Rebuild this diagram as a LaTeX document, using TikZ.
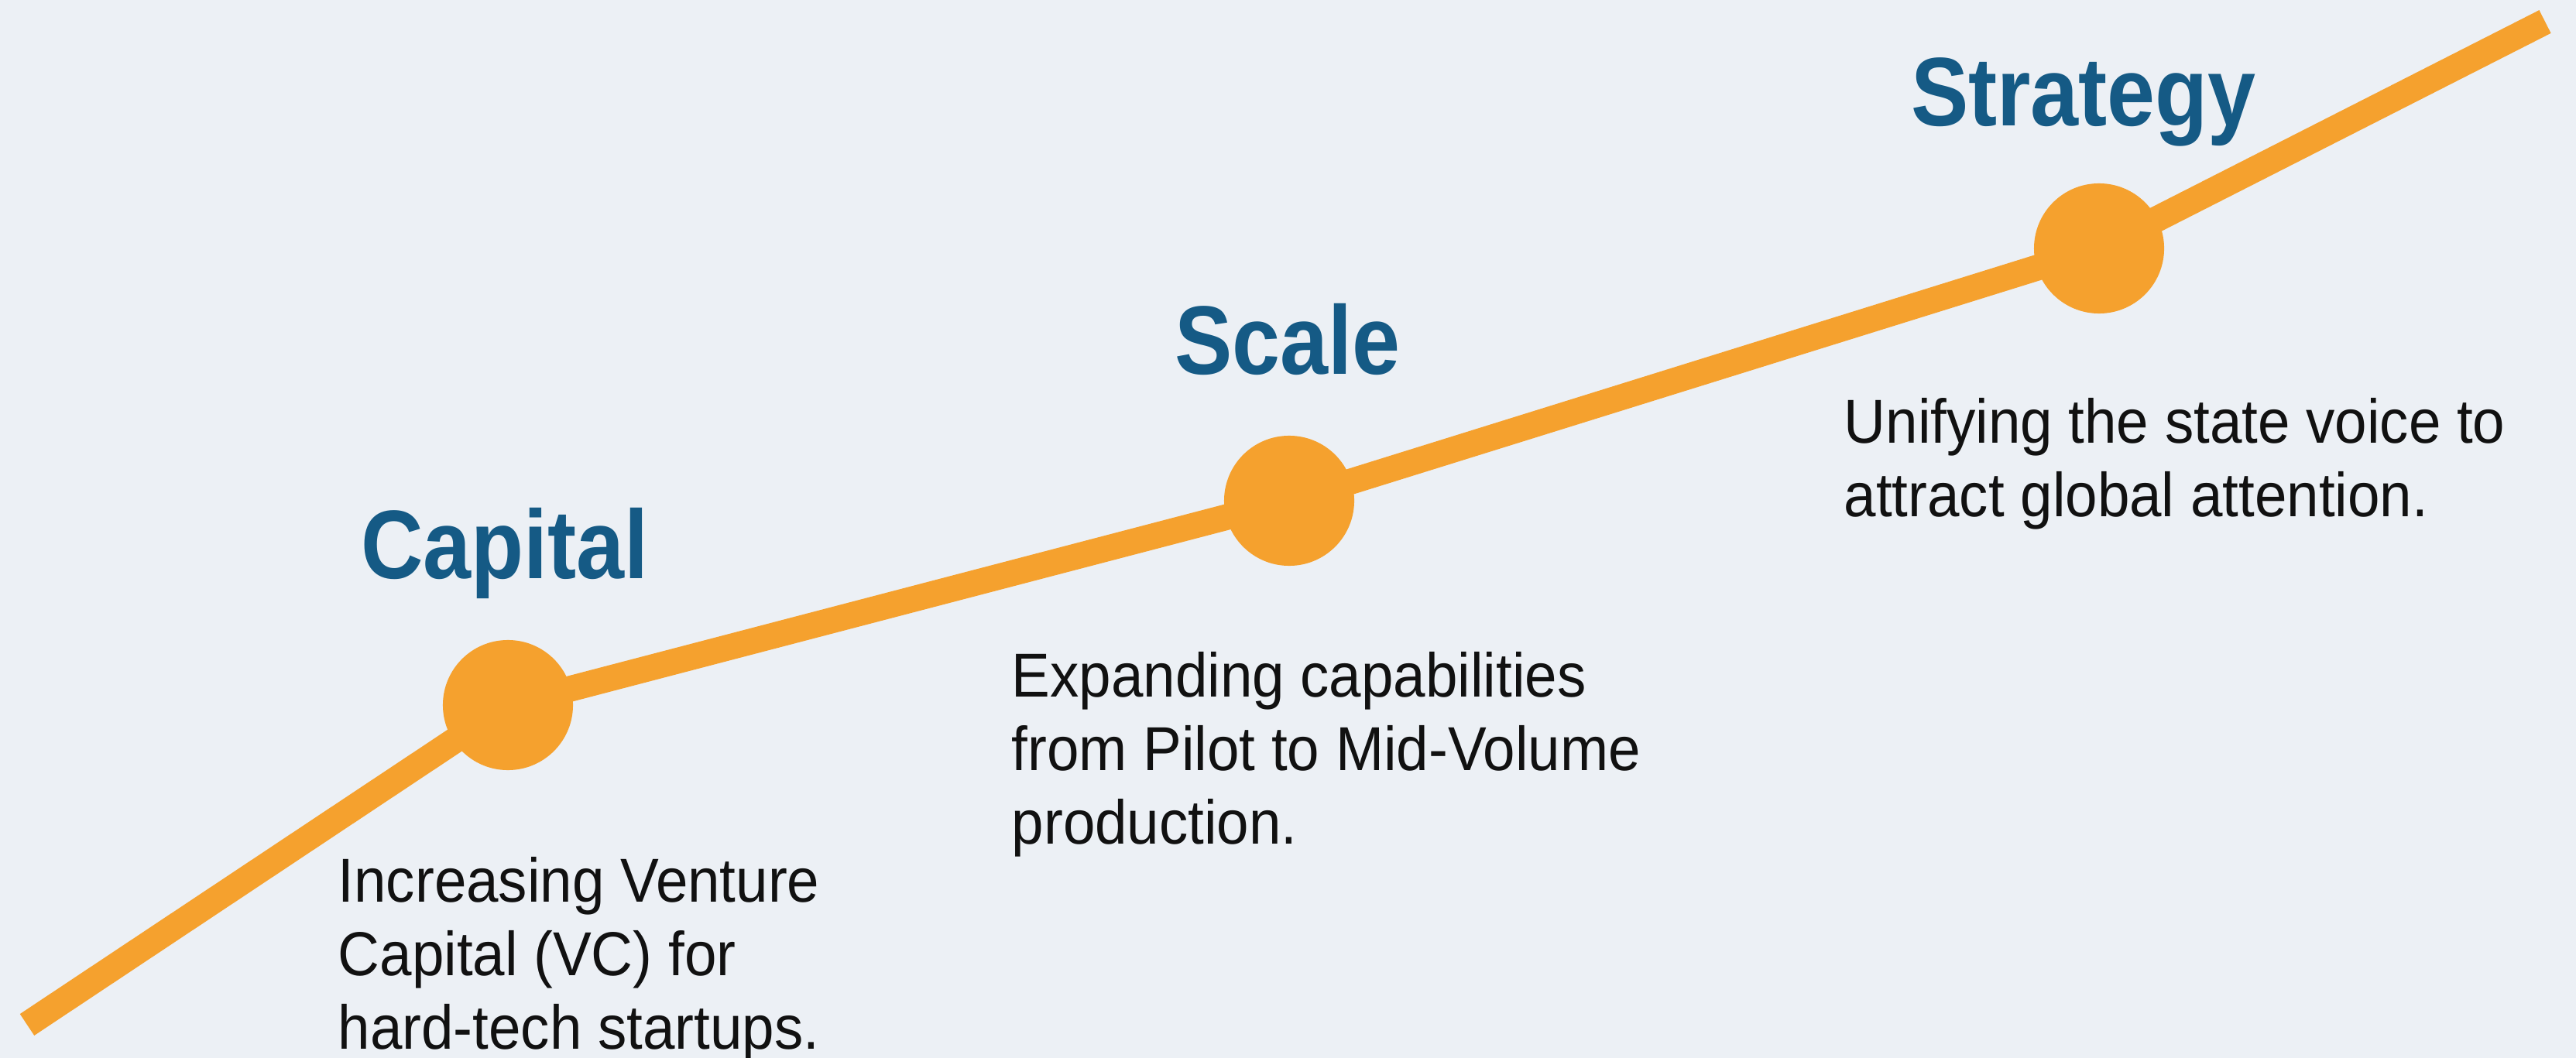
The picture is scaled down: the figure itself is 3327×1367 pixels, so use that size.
\documentclass[tikz,border=0pt]{standalone}
\usepackage{fontspec}
\setmainfont{Liberation Sans}
\newfontfamily\headfont[FakeStretch=0.885]{Liberation Sans}
\newfontfamily\bodyfont[FakeStretch=0.93]{Liberation Sans}

\definecolor{bgcol}{RGB}{236,240,245}
\definecolor{trackorange}{RGB}{245,161,46}
\definecolor{headblue}{RGB}{21,90,133}
\definecolor{bodyblack}{RGB}{17,17,17}

\tikzset{
  track/.style={draw=trackorange, line width=9.5pt, line join=round, line cap=butt},
  milestone/.style={circle, fill=trackorange, draw=none, minimum size=1.68cm, inner sep=0pt},
  heading/.style={anchor=base, inner sep=0pt, text=headblue,
    font=\headfont\bfseries\fontsize{35.8pt}{40pt}\selectfont},
  % the base anchor of a multi-line block sits on its last line
  blurb/.style={anchor=base west, inner sep=0pt, align=left, text=bodyblack,
    font=\bodyfont\fontsize{22.8pt}{27pt}\selectfont},
}

\begin{document}
\begin{tikzpicture}[x=0.01cm, y=-0.01cm]
  % canvas
  \fill[bgcol] (0,0) rectangle (3327,1367);
  \useasboundingbox (0,0) rectangle (3327,1367);

  % points along the growth track
  \coordinate (start) at (35,1324);
  \coordinate (p1) at (656,911);
  \coordinate (p2) at (1665,647);
  \coordinate (p3) at (2711,321);
  \coordinate (finish) at (3287,28);

  \draw[track] (start) -- (p1) -- (p2) -- (p3) -- (finish);

  % milestones
  \node[milestone] (capdot) at (p1) {};
  \node[milestone] (scaledot) at (p2) {};
  \node[milestone] (stratdot) at (p3) {};

  % headings
  \node[heading] (caphead) at (652,747) {Capital};
  \node[heading] (scalehead) at (1663,484) {Scale};
  \node[heading] (strathead) at (2691,163) {Strategy};

  % descriptions
  \node[blurb] (captext) at (436,1355) {Increasing Venture\\Capital (VC) for\\hard-tech startups.};
  \node[blurb] (scaletext) at (1306,1090) {Expanding capabilities\\from Pilot to Mid-Volume\\production.};
  \node[blurb] (strattext) at (2381,667) {Unifying the state voice to\\attract global attention.};
\end{tikzpicture}
\end{document}
